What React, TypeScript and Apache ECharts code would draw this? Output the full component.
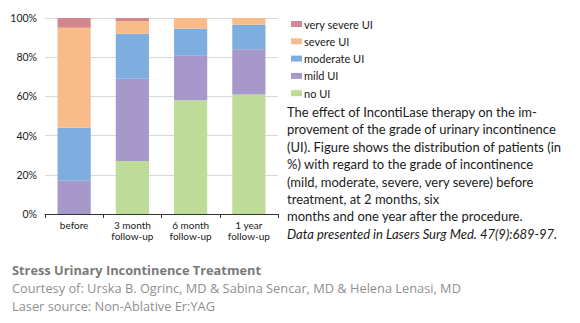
import React, { useEffect, useRef } from "react";
import * as echarts from "echarts";

const categories = ["before", "3 month\nfollow-up", "6 month\nfollow-up", "1 year\nfollow-up"];
const noUI = [0, 27, 58, 61];
const mildUI = [17, 42, 23, 23];
const moderateUI = [27, 23, 13.5, 12.5];
const severeUI = [51, 6.5, 5.5, 3.5];
const verySevereUI = [5, 1.5, 0, 0];
const yTicks = [0, 20, 40, 60, 80, 100];

const seriesDefs = [
  { name: "no UI", data: noUI, color: "#bedb98" },
  { name: "mild UI", data: mildUI, color: "#a698ca" },
  { name: "moderate UI", data: moderateUI, color: "#7eaee0" },
  { name: "severe UI", data: severeUI, color: "#f7bc89" },
  { name: "very severe UI", data: verySevereUI, color: "#d4868e" },
];

const descLines = [
  "The effect of IncontiLase therapy on the im-",
  "provement of the grade of urinary incontinence",
  "(UI). Figure shows the distribution of patients (in",
  "%) with regard to the grade of incontinence",
  "(mild, moderate, severe, very severe) before",
  "treatment, at 2 months, six",
  "months and one year after the procedure.",
];
const descItalic = "Data presented in Lasers Surg Med. 47(9):689-97.";

const footerTitle = "Stress Urinary Incontinence Treatment";
const footerLines = [
  "Courtesy of: Urska B. Ogrinc, MD & Sabina Sencar, MD & Helena Lenasi, MD",
  "Laser source: Non-Ablative Er:YAG",
];

export default function App() {
  const ref = useRef<HTMLDivElement>(null);
  useEffect(() => {
    document.body.style.margin = "0";
    const chart = echarts.init(ref.current!, null, { renderer: "svg" });
    const font = "Lato";
    const graphics: any[] = [];
    descLines.forEach((t, i) => {
      graphics.push({
        type: "text",
        left: 287,
        top: 105.5 + i * 17.4,
        style: { text: t, font: `13px ${font}`, fill: "#1a1a1a" },
      });
    });
    graphics.push({
      type: "text",
      left: 287,
      top: 105.5 + 7 * 17.4,
      style: { text: descItalic, font: `italic 13px ${font}`, fill: "#1a1a1a" },
    });
    graphics.push({
      type: "text",
      left: 12,
      top: 263,
      style: { text: footerTitle, font: `bold 12.8px "Open Sans"`, fill: "#7a7a7a" },
    });
    footerLines.forEach((t, i) => {
      graphics.push({
        type: "text",
        left: 12,
        top: 281 + i * 18,
        style: { text: t, font: `12.8px "Open Sans"`, fill: "#8f8f8f" },
      });
    });

    chart.setOption({
      animation: false,
      grid: { left: 45, right: 302, top: 18, bottom: 109, containLabel: false },
      legend: {
        data: seriesDefs.map((s) => s.name).reverse(),
        orient: "vertical",
        left: 286,
        top: 13.5,
        itemWidth: 11,
        itemHeight: 6,
        itemGap: 6.3,
        icon: "rect",
        textStyle: { fontFamily: font, fontSize: 11, color: "#1a1a1a", padding: [0, 0, 0, -3] },
      },
      xAxis: {
        type: "category",
        data: categories,
        axisLine: { lineStyle: { color: "#333", width: 1 } },
        axisTick: { show: true, length: 4, lineStyle: { color: "#333" } },
        axisLabel: {
          interval: 0,
          fontFamily: font,
          fontSize: 10,
          color: "#1a1a1a",
          lineHeight: 10.5,
          margin: 6,
        },
      },
      yAxis: {
        type: "value",
        min: 0,
        max: 100,
        interval: 20,
        axisLine: { show: false },
        axisTick: { show: false },
        splitLine: { lineStyle: { color: "#d9d9d9", width: 1 } },
        axisLabel: {
          fontFamily: font,
          fontSize: 10.5,
          color: "#1a1a1a",
          margin: 8,
          formatter: (v: number) => (yTicks.includes(v) ? v + "%" : ""),
        },
      },
      series: seriesDefs.map((s) => ({
        name: s.name,
        type: "bar",
        stack: "total",
        data: s.data,
        barWidth: "57%",
        itemStyle: { color: s.color },
      })),
      graphic: graphics,
    });
    return () => chart.dispose();
  }, []);
  return <div ref={ref} style={{ width: 580, height: 323 }} />;
}
